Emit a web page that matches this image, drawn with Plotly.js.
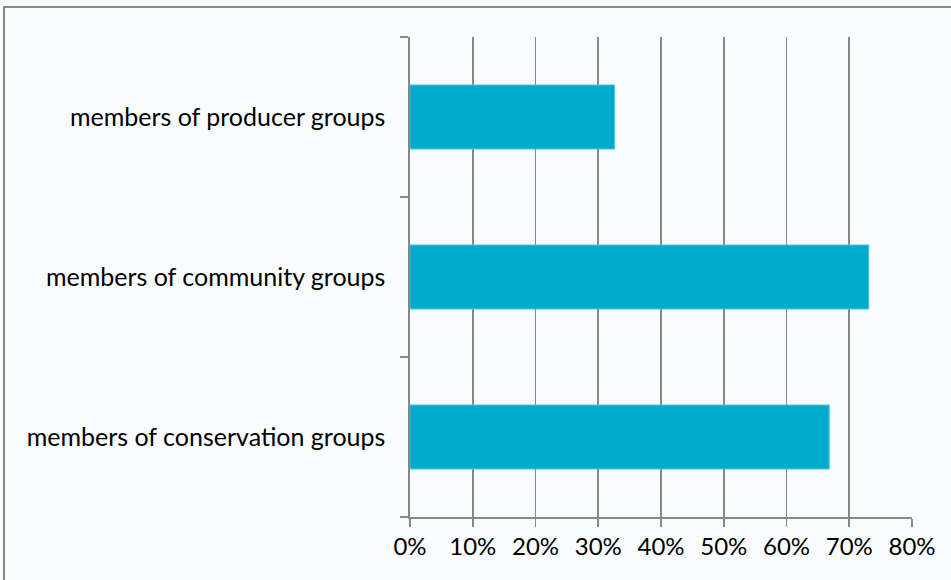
<!DOCTYPE html>
<html>
<head>
<meta charset="utf-8">
<script src="https://cdn.plot.ly/plotly-3.0.1.min.js"></script>
<style>html,body{margin:0;padding:0;background:#f8fcfd;}</style>
</head>
<body>
<div id="chart" style="width:951px;height:580px;"></div>
<script>
const categories = ["members of conservation groups", "members of community groups", "members of producer groups"];
const shares = [0.668, 0.731, 0.326];
const xTickVals = [0, 0.1, 0.2, 0.3, 0.4, 0.5, 0.6, 0.7, 0.8];
const xTickText = ["0%", "10%", "20%", "30%", "40%", "50%", "60%", "70%", "80%"];

const L = 410, R = 39, T = 37, B = 63, W = 951, H = 580;
const pw = W - L - R, ph = H - T - B;

Plotly.newPlot('chart', [{
  type: 'bar',
  orientation: 'h',
  y: categories,
  x: shares,
  width: 0.4,
  marker: {color: '#00aacc', line: {color: '#40c4e0', width: 1}},
  hoverinfo: 'none'
}], {
  width: W, height: H,
  margin: {l: L, r: R, t: T, b: B, pad: 0},
  paper_bgcolor: '#f8fcfd',
  plot_bgcolor: '#f8fcfd',
  font: {family: 'Lato, "Open Sans", sans-serif', size: 24, color: '#000'},
  showlegend: false,
  xaxis: {
    range: [0, 0.8],
    tickvals: xTickVals,
    ticktext: xTickText,
    showgrid: true, gridcolor: '#888888', gridwidth: 1.6,
    zeroline: false,
    showline: true, linecolor: '#888888', linewidth: 1.6,
    ticks: 'outside', ticklen: 8, tickcolor: '#888888', tickwidth: 1.6,
    tickfont: {size: 24},
    fixedrange: true
  },
  yaxis: {
    range: [-0.5, 2.5],
    showgrid: false, zeroline: false,
    showline: true, linecolor: '#888888', linewidth: 1.6,
    ticks: 'outside', ticklen: 8, tickcolor: '#888888', tickwidth: 1.6,
    tickson: 'boundaries',
    ticklabelstandoff: 18,
    tickfont: {size: 25},
    fixedrange: true
  },
  shapes: [{
    type: 'rect', xref: 'paper', yref: 'paper',
    x0: (4 - L) / pw, x1: (W + 20 - L) / pw,
    y0: (H - B - (H + 20)) / ph, y1: (H - B - 7) / ph,
    line: {color: '#888888', width: 2}, fillcolor: 'rgba(0,0,0,0)', layer: 'below'
  }]
}, {displayModeBar: false, staticPlot: true});
</script>
</body>
</html>
